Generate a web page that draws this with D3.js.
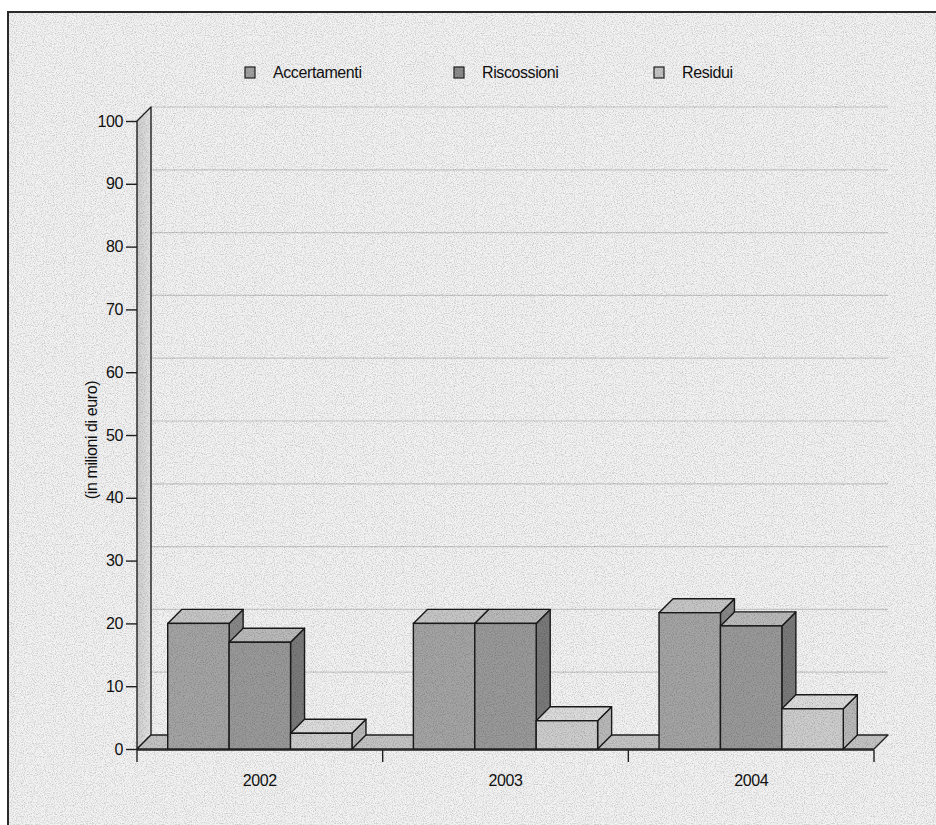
<!DOCTYPE html>
<html>
<head>
<meta charset="utf-8">
<script src="https://cdn.jsdelivr.net/npm/d3@7"></script>
<style>
  html, body { margin: 0; padding: 0; background: #ffffff; }
  svg { display: block; }
  text { font-family: "Liberation Sans", Arial, Helvetica, sans-serif; fill: #111111; letter-spacing: -0.4px; }
</style>
</head>
<body>
<svg id="chart" width="936" height="825"></svg>
<script>
// ---- data ----
const categories = ["2002", "2003", "2004"];
const seriesNames = ["Accertamenti", "Riscossioni", "Residui"];
const accertamenti = [20, 20, 21.7];
const riscossioni = [17, 20, 19.6];
const residui = [2.5, 4.5, 6.4];
const yTicks = [0, 10, 20, 30, 40, 50, 60, 70, 80, 90, 100];
const yTitle = "(in milioni di euro)";

const seriesValues = [accertamenti, riscossioni, residui];
const colors = {
  Accertamenti: { front: "#a4a4a4", top: "#c6c6c6", side: "#888888", legend: "#a0a0a0" },
  Riscossioni:  { front: "#999999", top: "#bababa", side: "#7a7a7a", legend: "#8c8c8c" },
  Residui:      { front: "#cdcdcd", top: "#dcdcdc", side: "#b9b9b9", legend: "#c6c6c6" }
};

const svg = d3.select("#chart");
const defs = svg.append("defs");

// grain filter
const f = defs.append("filter").attr("id", "grain").attr("x", 0).attr("y", 0).attr("width", "100%").attr("height", "100%");
f.append("feTurbulence").attr("type", "fractalNoise").attr("baseFrequency", 0.9).attr("numOctaves", 2).attr("seed", 3).attr("result", "n");
f.append("feColorMatrix").attr("in", "n").attr("type", "matrix")
  .attr("values", "0 0 0 0 0  0 0 0 0 0  0 0 0 0 0  0 0 0 -2.2 1.25");

const wallGrad = defs.append("linearGradient").attr("id", "wallGrad").attr("x1", 0).attr("x2", 1).attr("y1", 0).attr("y2", 0);
wallGrad.append("stop").attr("offset", 0).attr("stop-color", "#cfcfcf");
wallGrad.append("stop").attr("offset", 1).attr("stop-color", "#e4e4e4");

// frame background
svg.append("rect").attr("x", 8).attr("y", 12).attr("width", 940).attr("height", 830)
  .attr("fill", "#f2f2f2").attr("stroke", "#2a2a2a").attr("stroke-width", 2);

// layout
const x0 = 137, x1 = 874, yBase = 749, yTop = 121, depth = 14;
const y = d3.scaleLinear().domain([0, 100]).range([yBase, yTop]);
const xCat = d3.scaleBand().domain(categories).range([x0, x1]).paddingInner(0).paddingOuter(0);
const xSer = d3.scaleBand().domain(seriesNames).range([0, xCat.bandwidth()]).paddingInner(0).paddingOuter(0.5);

const g = svg.append("g");

// gridlines on back wall
g.selectAll("line.grid").data(yTicks.filter(t => t > 0)).join("line")
  .attr("class", "grid")
  .attr("x1", x0 + depth).attr("x2", x1 + depth)
  .attr("y1", d => y(d) - depth).attr("y2", d => y(d) - depth)
  .attr("stroke", "#cacaca").attr("stroke-width", 1.2);

// left wall
g.append("polygon")
  .attr("points", [[x0, y(0)], [x0, y(100)], [x0 + depth, y(100) - depth], [x0 + depth, y(0) - depth]].map(p => p.join(",")).join(" "))
  .attr("fill", "url(#wallGrad)").attr("stroke", "#222").attr("stroke-width", 1.4).attr("stroke-linejoin", "round");

// floor
g.append("polygon")
  .attr("points", [[x0, y(0)], [x1, y(0)], [x1 + depth, y(0) - depth], [x0 + depth, y(0) - depth]].map(p => p.join(",")).join(" "))
  .attr("fill", "#c4c4c4").attr("stroke", "#222").attr("stroke-width", 1.4).attr("stroke-linejoin", "round");

// bars
categories.forEach((cat, ci) => {
  seriesNames.forEach((s, si) => {
    const v = seriesValues[si][ci];
    const bx = xCat(cat) + xSer(s);
    const bw = xSer.bandwidth();
    const yv = y(v), y0 = y(0);
    const c = colors[s];
    const bg = g.append("g");
    bg.append("polygon")
      .attr("points", [[bx + bw, yv], [bx + bw + depth, yv - depth], [bx + bw + depth, y0 - depth], [bx + bw, y0]].map(p => p.join(",")).join(" "))
      .attr("fill", c.side).attr("stroke", "#1a1a1a").attr("stroke-width", 1.4).attr("stroke-linejoin", "round");
    bg.append("polygon")
      .attr("points", [[bx, yv], [bx + depth, yv - depth], [bx + bw + depth, yv - depth], [bx + bw, yv]].map(p => p.join(",")).join(" "))
      .attr("fill", c.top).attr("stroke", "#1a1a1a").attr("stroke-width", 1.4).attr("stroke-linejoin", "round");
    bg.append("rect")
      .attr("x", bx).attr("y", yv).attr("width", bw).attr("height", y0 - yv)
      .attr("fill", c.front).attr("stroke", "#1a1a1a").attr("stroke-width", 1.4);
  });
});

// y axis
const yAxis = d3.axisLeft(y).tickValues(yTicks).tickSize(11).tickPadding(3);
const ya = svg.append("g").attr("transform", `translate(${x0},0)`).call(yAxis);
ya.select(".domain").remove();
ya.selectAll(".tick line").attr("stroke", "#222").attr("stroke-width", 1.4);
ya.selectAll(".tick text").attr("font-size", 16).attr("fill", "#111")
  .style("font-family", "'Liberation Sans', Arial, sans-serif");

// x axis
const xAxisScale = d3.scalePoint().domain(d3.range(categories.length + 1)).range([x0, x1]);
const xa = svg.append("g").attr("transform", `translate(0,${y(0) + 1})`);
xa.append("line").attr("x1", x0).attr("x2", x1).attr("y1", 0).attr("y2", 0).attr("stroke", "#222").attr("stroke-width", 1.4);
xa.selectAll("line.tk").data(xAxisScale.domain()).join("line").attr("class", "tk")
  .attr("x1", d => xAxisScale(d)).attr("x2", d => xAxisScale(d)).attr("y1", 0).attr("y2", 12)
  .attr("stroke", "#222").attr("stroke-width", 1.4);
xa.selectAll("text.cat").data(categories).join("text").attr("class", "cat")
  .attr("x", d => xCat(d) + xCat.bandwidth() / 2).attr("y", 36)
  .attr("text-anchor", "middle").attr("font-size", 16).text(d => d);

// y title
svg.append("text").attr("transform", "translate(97,440) rotate(-90)")
  .attr("text-anchor", "middle").attr("font-size", 16).text(yTitle);

// legend
const legendX = [245, 454, 654];
const lg = svg.append("g");
seriesNames.forEach((s, i) => {
  lg.append("rect").attr("x", legendX[i]).attr("y", 67).attr("width", 10).attr("height", 11)
    .attr("fill", colors[s].legend).attr("stroke", "#222").attr("stroke-width", 1.2);
  lg.append("text").attr("x", legendX[i] + 28).attr("y", 78).attr("font-size", 16).text(s);
});

// grain overlay inside frame
svg.append("rect").attr("x", 9).attr("y", 13).attr("width", 927).attr("height", 812)
  .attr("filter", "url(#grain)").attr("opacity", 0.2).style("pointer-events", "none");
</script>
</body>
</html>
